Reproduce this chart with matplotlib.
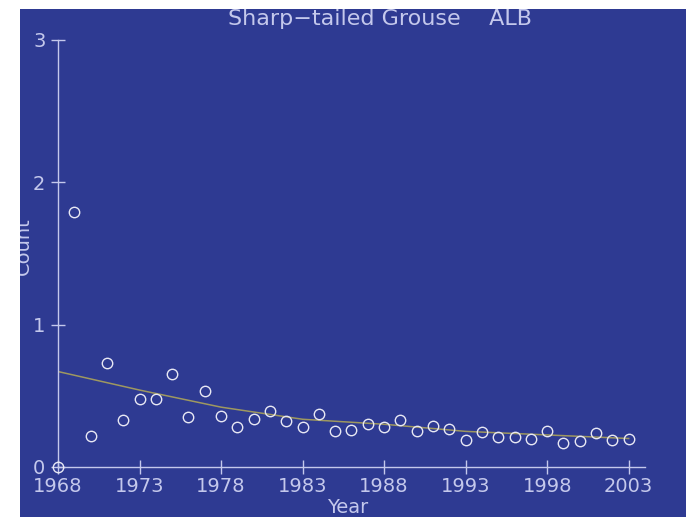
import matplotlib
matplotlib.use('Agg')
import matplotlib.pyplot as plt
from matplotlib.patches import Rectangle

# survey counts by year
years = list(range(1968, 2004))
counts = [0.0, 1.79, 0.22, 0.73, 0.33, 0.48, 0.48, 0.65, 0.35, 0.53,
          0.36, 0.28, 0.34, 0.39, 0.32, 0.28, 0.37, 0.25, 0.26, 0.30,
          0.28, 0.33, 0.25, 0.29, 0.27, 0.19, 0.245, 0.21, 0.21, 0.20,
          0.25, 0.17, 0.18, 0.24, 0.19, 0.20]

# smoothed trend
trend_years = [1968, 1973, 1978, 1983, 1988, 1993, 1998, 2003]
trend = [0.67, 0.54, 0.42, 0.335, 0.30, 0.25, 0.225, 0.20]

xticks = [1968, 1973, 1978, 1983, 1988, 1993, 1998, 2003]
yticks = [0, 1, 2, 3]

bg = '#2e3a92'
fg = '#c4c8ec'

fig = plt.figure(figsize=(6.86, 5.17), dpi=100)
fig.patch.set_facecolor(bg)
ax = fig.add_axes([58/686, 50/517, (645-58)/686, (467-39.5)/517])
ax.set_facecolor(bg)

ax.plot(trend_years, trend, color='#9e9860', lw=1.1, zorder=2)
ax.plot(years, counts, 'o', mfc='none', mec='#e8e8f4', ms=7.5, mew=1.0,
        clip_on=False, zorder=3)

ax.set_xlim(1968, 2004)
ax.set_ylim(0, 3)
ax.set_xticks(xticks)
ax.set_yticks(yticks)
for s in ['top', 'right']:
    ax.spines[s].set_visible(False)
for s in ['left', 'bottom']:
    ax.spines[s].set_color(fg)
    ax.spines[s].set_linewidth(1.0)
ax.tick_params(colors=fg, labelsize=14, direction='inout', length=10, width=1.0)
ax.tick_params(axis='x', pad=2)
ax.tick_params(axis='y', pad=4)

ax.set_xlabel('Year', color=fg, fontsize=14)
ax.set_ylabel('Count', color=fg, fontsize=14)
ax.xaxis.set_label_coords(0.494, -0.072)
ax.yaxis.set_label_coords(-0.043, 0.517)

fig.text(380/686, 1 - 25/517, 'Sharp\u2212tailed Grouse    ALB', color=fg,
         fontsize=16, ha='center', va='baseline')

# white strip on the left and top
fig.add_artist(Rectangle((0, 0), 20/686, 1, transform=fig.transFigure,
                         facecolor='white', edgecolor='none', zorder=10))
fig.add_artist(Rectangle((0, 1 - 9/517), 1, 9/517, transform=fig.transFigure,
                         facecolor='white', edgecolor='none', zorder=10))

fig.savefig('out.png', dpi=100, facecolor=bg)
